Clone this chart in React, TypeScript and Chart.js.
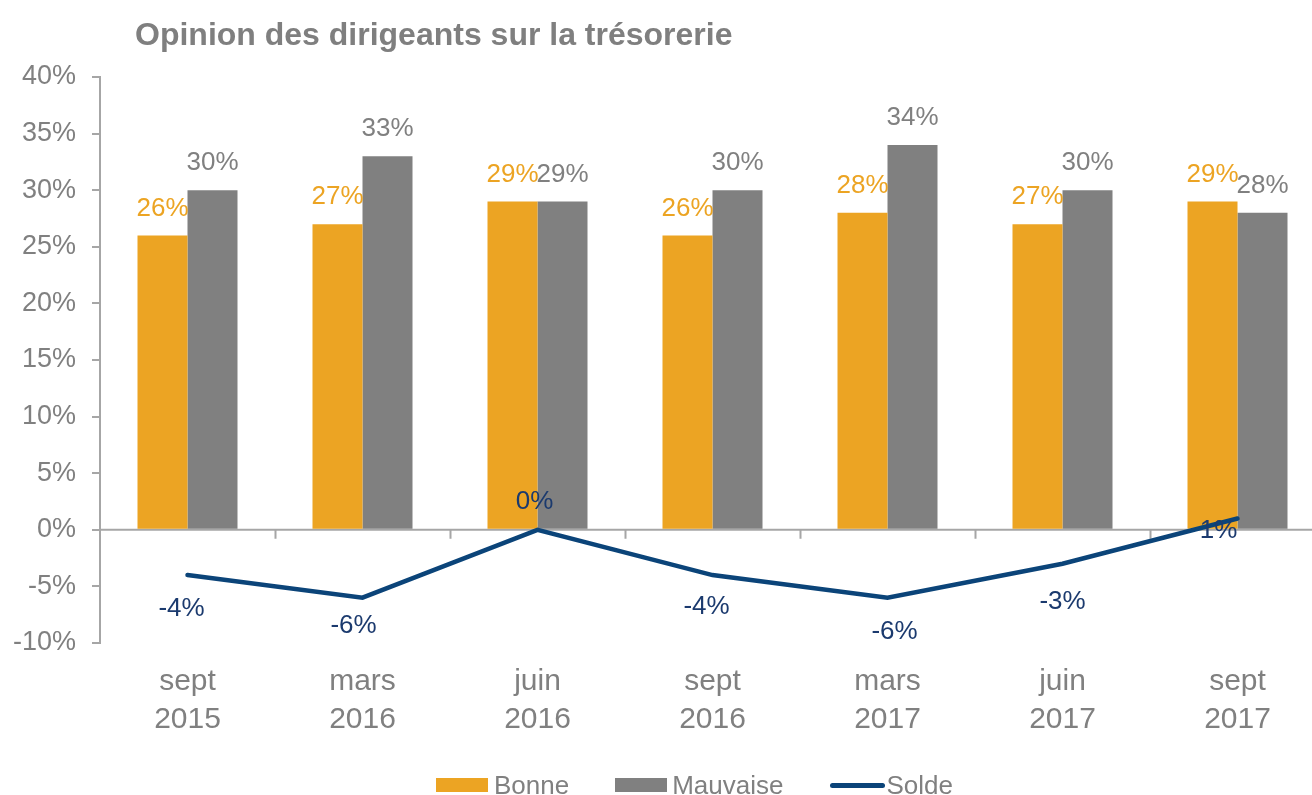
import React, { useEffect, useRef } from 'react';
import { Chart, registerables } from 'chart.js';

Chart.register(...registerables);

const categories: string[][] = [
  ['sept', '2015'],
  ['mars', '2016'],
  ['juin', '2016'],
  ['sept', '2016'],
  ['mars', '2017'],
  ['juin', '2017'],
  ['sept', '2017'],
];
const bonne = [26, 27, 29, 26, 28, 27, 29];
const mauvaise = [30, 33, 29, 30, 34, 30, 28];
const solde = [-4, -6, 0, -4, -6, -3, 1];
const yMin = -10;
const yMax = 40;
const yStep = 5;

// label nudges (style only): [dx, dy] in px for the Solde labels
const soldeLabelNudge = [
  [-6, 34],
  [-9, 28],
  [-3, -28],
  [-6, 32],
  [7, 34],
  [0, 38],
  [-19, 12],
];

const FONT = "'Liberation Sans', Arial, Helvetica, sans-serif";
const ORANGE = '#ECA423';
const GREY = '#808080';
const NAVY = '#0B4479';
const NAVY_TXT = '#1B3A6E';
const AXIS = '#A6A6A6';

const decorPlugin = {
  id: 'decor',
  beforeDatasetsDraw(chart: any) {
    const { ctx, chartArea, scales } = chart;
    const x = scales.x;
    const y = scales.y;
    const y0 = y.getPixelForValue(0);
    ctx.save();
    ctx.strokeStyle = AXIS;
    ctx.lineWidth = 2;
    ctx.beginPath();
    ctx.moveTo(chartArea.left, y0);
    ctx.lineTo(chartArea.right, y0);
    const w = (x.right - x.left) / categories.length;
    for (let i = 1; i <= categories.length; i++) {
      const px = Math.round(x.left + i * w) + 0.5;
      ctx.moveTo(px, y0);
      ctx.lineTo(px, y0 + 9);
    }
    ctx.stroke();
    ctx.restore();
  },
  afterDatasetsDraw(chart: any) {
    const { ctx } = chart;
    ctx.save();
    ctx.font = `26px ${FONT}`;
    ctx.textAlign = 'center';
    ctx.textBaseline = 'middle';
    [0, 1].forEach((di) => {
      const meta = chart.getDatasetMeta(di);
      const data = chart.data.datasets[di].data as number[];
      ctx.fillStyle = di === 0 ? ORANGE : GREY;
      meta.data.forEach((el: any, i: number) => {
        ctx.fillText(`${data[i]}%`, el.x, el.y - 27);
      });
    });
    const lmeta = chart.getDatasetMeta(2);
    ctx.fillStyle = NAVY_TXT;
    lmeta.data.forEach((el: any, i: number) => {
      const [dx, dy] = soldeLabelNudge[i];
      ctx.fillText(`${solde[i]}%`, el.x + dx, el.y + dy);
    });
    ctx.restore();
  },
};

export default function App() {
  const ref = useRef<HTMLCanvasElement | null>(null);
  useEffect(() => {
    if (!ref.current) return;
    const chart = new Chart(ref.current, {
      type: 'bar',
      data: {
        labels: categories,
        datasets: [
          {
            type: 'bar',
            label: 'Bonne',
            data: bonne,
            backgroundColor: ORANGE,
            categoryPercentage: 100 / 175,
            barPercentage: 1,
            order: 2,
          },
          {
            type: 'bar',
            label: 'Mauvaise',
            data: mauvaise,
            backgroundColor: GREY,
            categoryPercentage: 100 / 175,
            barPercentage: 1,
            order: 2,
          },
          {
            type: 'line',
            label: 'Solde',
            data: solde,
            borderColor: NAVY,
            backgroundColor: NAVY,
            borderWidth: 4.5,
            pointRadius: 0,
            tension: 0,
            borderCapStyle: 'round',
            borderJoinStyle: 'miter',
            order: 1,
          } as any,
        ],
      },
      options: {
        responsive: false,
        animation: false,
        devicePixelRatio: 1,
        layout: { padding: { top: 77, left: 0, right: 0, bottom: 0 } },
        plugins: {
          legend: { display: false },
          title: { display: false },
          tooltip: { enabled: false },
        },
        scales: {
          x: {
            offset: true,
            grid: { display: false, drawTicks: false },
            border: { display: false },
            ticks: {
              color: GREY,
              font: { size: 30, family: FONT, lineHeight: 1.27 },
              padding: 20,
              maxRotation: 0,
              autoSkip: false,
            },
            afterFit: (s: any) => {
              s.height = 152;
            },
          },
          y: {
            min: yMin,
            max: yMax,
            grid: {
              drawOnChartArea: false,
              drawTicks: true,
              tickLength: 8,
              color: AXIS,
              lineWidth: 2,
            },
            border: { display: true, color: AXIS, width: 2 },
            ticks: {
              stepSize: yStep,
              color: GREY,
              font: { size: 27, family: FONT },
              padding: 16,
              callback: (v: any) => `${v}%`,
            },
            afterFit: (s: any) => {
              s.width = 100;
            },
          },
        },
      },
      plugins: [decorPlugin],
    });
    return () => chart.destroy();
  }, []);

  const legendText: React.CSSProperties = {
    fontFamily: FONT,
    fontSize: 26,
    color: GREY,
    lineHeight: '30px',
  };

  return (
    <div
      style={{
        position: 'absolute',
        left: 0,
        top: 0,
        width: 1312,
        height: 795,
        overflow: 'hidden',
        background: '#fff',
      }}
    >
      <canvas ref={ref} width={1325} height={795} style={{ display: 'block', position: 'absolute', left: 0, top: 0 }} />
      <div
        style={{
          position: 'absolute',
          left: 135,
          top: 18,
          fontFamily: FONT,
          fontWeight: 'bold',
          fontSize: 32,
          lineHeight: '32px',
          color: '#7F7F7F',
          whiteSpace: 'nowrap',
        }}
      >
        Opinion des dirigeants sur la trésorerie
      </div>
      <div
        style={{
          position: 'absolute',
          left: 436,
          top: 770,
          height: 30,
          display: 'flex',
          alignItems: 'center',
          whiteSpace: 'nowrap',
        }}
      >
        <span style={{ width: 52, height: 14, background: ORANGE, display: 'inline-block', marginRight: 6 }} />
        <span style={{ ...legendText, marginRight: 46 }}>Bonne</span>
        <span style={{ width: 52, height: 14, background: GREY, display: 'inline-block', marginRight: 5 }} />
        <span style={{ ...legendText, marginRight: 47 }}>Mauvaise</span>
        <span style={{ width: 55, height: 5, background: NAVY, borderRadius: 3, display: 'inline-block', marginRight: 1 }} />
        <span style={legendText}>Solde</span>
      </div>
    </div>
  );
}
